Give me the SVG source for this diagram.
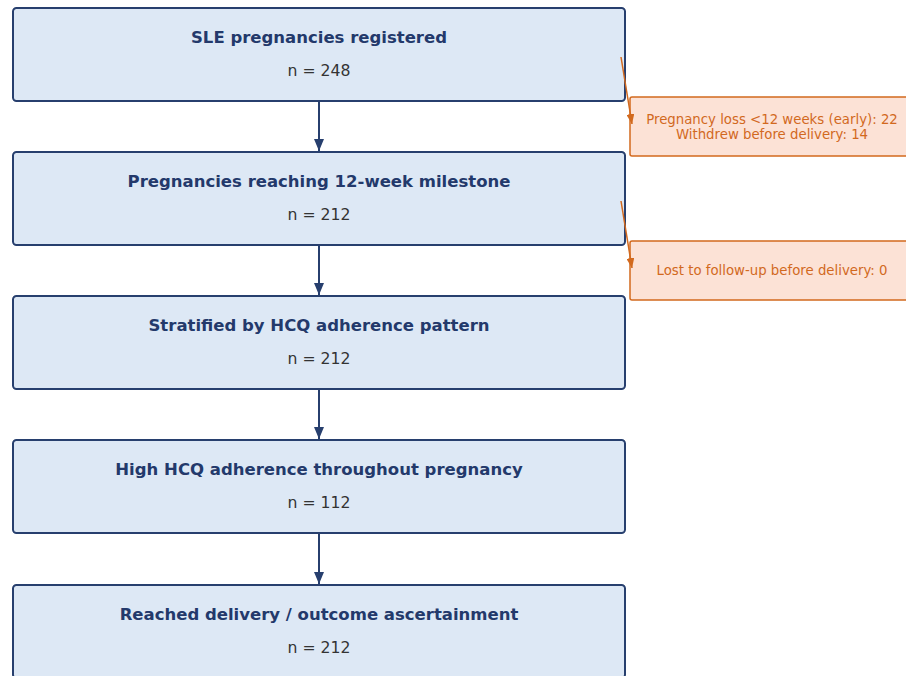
<svg xmlns="http://www.w3.org/2000/svg" width="906" height="676" viewBox="0 0 906 676">
<defs>
<style>
.box{fill:#dde8f5;stroke:#273f6e;stroke-width:2}
.side{fill:#fce2d6;stroke:#d2691e;stroke-width:1.5}
.t{font-family:"DejaVu Sans",sans-serif;font-weight:bold;font-size:16.5px;fill:#23396b;text-anchor:middle}
.n{font-family:"DejaVu Sans",sans-serif;font-size:15.7px;fill:#333;text-anchor:middle}
.s{font-family:"DejaVu Sans",sans-serif;font-size:13.3px;fill:#d2691e;text-anchor:middle}
.ar{stroke:#273f6e;stroke-width:2;fill:none}
.oa{stroke:#d2691e;stroke-width:1.5;fill:none}
</style>
<marker id="mn" viewBox="0 0 12 10" refX="12" refY="5" markerWidth="12" markerHeight="10" markerUnits="userSpaceOnUse" orient="auto"><path d="M0,0L12,5L0,10z" fill="#273f6e"/></marker>
<marker id="mo" viewBox="0 0 10 8" refX="10" refY="4" markerWidth="10" markerHeight="8" markerUnits="userSpaceOnUse" orient="auto"><path d="M0,0L10,4L0,8z" fill="#d2691e"/></marker>
</defs>
<rect width="906" height="676" fill="#fff"/>
<g id="n1"><rect class="box" x="13" y="8" width="612" height="93" rx="3.5"/><text class="t" x="319" y="43">SLE pregnancies registered</text><text class="n" x="319" y="76">n = 248</text></g>
<g id="n2"><rect class="box" x="13" y="152" width="612" height="93" rx="3.5"/><text class="t" x="319" y="187">Pregnancies reaching 12-week milestone</text><text class="n" x="319" y="220">n = 212</text></g>
<g id="n3"><rect class="box" x="13" y="296" width="612" height="93" rx="3.5"/><text class="t" x="319" y="331">Stratified by HCQ adherence pattern</text><text class="n" x="319" y="364">n = 212</text></g>
<g id="n4"><rect class="box" x="13" y="440" width="612" height="93" rx="3.5"/><text class="t" x="319" y="475">High HCQ adherence throughout pregnancy</text><text class="n" x="319" y="508">n = 112</text></g>
<g id="n5"><rect class="box" x="13" y="585" width="612" height="93" rx="3.5"/><text class="t" x="319" y="620">Reached delivery / outcome ascertainment</text><text class="n" x="319" y="653">n = 212</text></g>
<g id="e1"><rect class="side" x="630" y="97" width="290" height="59" rx="2"/><text class="s" x="772" y="124">Pregnancy loss &lt;12 weeks (early): 22</text><text class="s" x="772" y="139">Withdrew before delivery: 14</text></g>
<g id="e2"><rect class="side" x="630" y="241" width="290" height="59" rx="2"/><text class="s" x="772" y="275">Lost to follow-up before delivery: 0</text></g>
<g id="connectors">
<line class="ar" x1="319" y1="102" x2="319" y2="151" marker-end="url(#mn)"/>
<line class="ar" x1="319" y1="246" x2="319" y2="295" marker-end="url(#mn)"/>
<line class="ar" x1="319" y1="390" x2="319" y2="439" marker-end="url(#mn)"/>
<line class="ar" x1="319" y1="534" x2="319" y2="584" marker-end="url(#mn)"/>
<line class="oa" x1="621" y1="57" x2="632" y2="124" marker-end="url(#mo)"/>
<line class="oa" x1="621" y1="201" x2="632" y2="268" marker-end="url(#mo)"/>
</g>
</svg>
